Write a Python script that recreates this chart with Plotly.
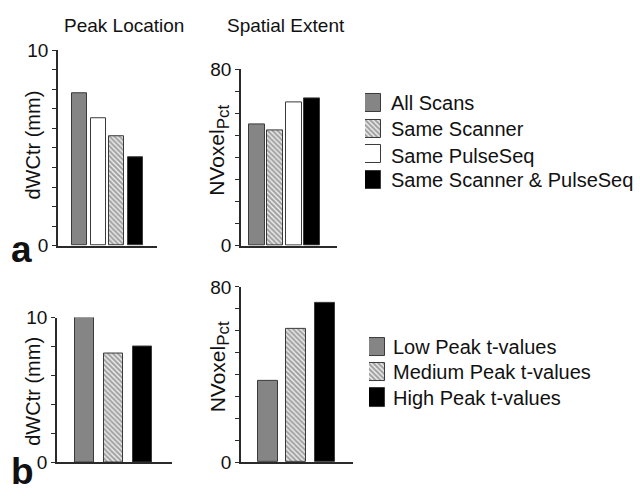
import plotly.graph_objects as go

# ---------------- data ----------------
top_legend = ["All Scans", "Same Scanner", "Same PulseSeq", "Same Scanner & PulseSeq"]
top_peak_order = ["All Scans", "Same PulseSeq", "Same Scanner", "Same Scanner & PulseSeq"]
top_peak_vals = [7.8, 6.5, 5.6, 4.5]
top_spatial_order = ["All Scans", "Same Scanner", "Same PulseSeq", "Same Scanner & PulseSeq"]
top_spatial_vals = [55.2, 52.2, 64.8, 66.7]

bot_legend = ["Low Peak t-values", "Medium Peak t-values", "High Peak t-values"]
bot_peak_vals = [10.0, 7.5, 8.0]
bot_spatial_vals = [37.3, 60.8, 72.8]

peak_ticks_top = [0, 1, 2, 3, 4, 5, 6, 7, 8, 9, 10]
peak_ticks_bot = [0, 2, 4, 6, 8, 10]
spatial_ticks = [0, 10, 20, 30, 40, 50, 60, 70, 80]

# ---------------- styles ----------------
FONT = "Liberation Sans, Arial, Helvetica, sans-serif"
style = {
    "All Scans": ("#858585", ""),
    "Same Scanner": ("white", "\\"),
    "Same PulseSeq": ("white", ""),
    "Same Scanner & PulseSeq": ("black", ""),
    "Low Peak t-values": ("#858585", ""),
    "Medium Peak t-values": ("white", "\\"),
    "High Peak t-values": ("black", ""),
}


def bar_trace(names, vals, xa, ya, width, orientation="v"):
    colors = [style[n][0] for n in names]
    shapes = [style[n][1] for n in names]
    kw = dict(
        marker=dict(
            color=colors,
            line=dict(color="#3a3a3a", width=1),
            pattern=dict(shape=shapes, fillmode="overlay", fgcolor="#111111",
                         size=3.5, solidity=0.65),
        ),
        width=width, xaxis=xa, yaxis=ya, showlegend=False, hoverinfo="skip",
    )
    if orientation == "v":
        return go.Bar(x=list(range(len(names))), y=vals, **kw)
    return go.Bar(y=list(range(len(names))), x=[1] * len(names), orientation="h", **kw)


fig = go.Figure()
fig.add_trace(bar_trace(top_peak_order, top_peak_vals, "x", "y", 0.8))
fig.add_trace(bar_trace(top_spatial_order, top_spatial_vals, "x2", "y2", 0.87))
fig.add_trace(bar_trace(bot_legend, bot_peak_vals, "x3", "y3", 0.68))
fig.add_trace(bar_trace(bot_legend, bot_spatial_vals, "x4", "y4", 0.7))
# legend swatches
fig.add_trace(bar_trace(top_legend, None, "x5", "y5", 0.7, orientation="h"))
fig.add_trace(bar_trace(bot_legend, None, "x6", "y6", 0.72, orientation="h"))

W, H = 640, 500


def px_x(a, b):
    return [a / W, b / W]


def px_y(top, bottom):
    return [1 - bottom / H, 1 - top / H]


AX_LINE = dict(showline=True, linecolor="#2a2a2a", linewidth=1.5, showgrid=False,
               zeroline=False, mirror=False)


def xaxis(dom, rng, anchor):
    return dict(domain=dom, range=rng, anchor=anchor, showticklabels=False,
                ticks="", fixedrange=True, **AX_LINE)


def yaxis(dom, rng, anchor, tickvals):
    text = [str(v) if (v == tickvals[0] or v == tickvals[-1]) else " " for v in tickvals]
    return dict(domain=dom, range=rng, anchor=anchor, tickmode="array",
                tickvals=tickvals, ticktext=text, ticks="outside", ticklen=4,
                tickwidth=1, tickcolor="#2a2a2a",
                tickfont=dict(family=FONT, size=19, color="#111"), **AX_LINE)


hidden = dict(visible=False, showgrid=False, zeroline=False, fixedrange=True)

fig.update_layout(
    width=W, height=H, margin=dict(l=0, r=0, t=0, b=0),
    paper_bgcolor="white", plot_bgcolor="white", bargap=0, showlegend=False,
    xaxis=xaxis(px_x(58, 157), [-1.15, 4.15], "y"),
    yaxis=yaxis(px_y(42, 246), [0, 10], "x", peak_ticks_top),
    xaxis2=xaxis(px_x(241, 337), [-0.87, 4.36], "y2"),
    yaxis2=yaxis(px_y(62, 246), [0, 80], "x2", spatial_ticks),
    xaxis3=xaxis(px_x(57, 172), [-0.95, 3.02], "y3"),
    yaxis3=yaxis(px_y(321, 472), [0, 10], "x3", peak_ticks_bot),
    xaxis4=xaxis(px_x(241, 353), [-0.93, 2.97], "y4"),
    yaxis4=yaxis(px_y(289, 472), [0, 80], "x4", spatial_ticks),
    xaxis5=dict(domain=px_x(365, 381), range=[0, 1], anchor="y5", **hidden),
    yaxis5=dict(domain=px_y(83.5, 191), range=[3.5, -0.5], anchor="x5", **hidden),
    xaxis6=dict(domain=px_x(369, 385), range=[0, 1], anchor="y6", **hidden),
    yaxis6=dict(domain=px_y(338.25, 417.75), range=[2.5, -0.5], anchor="x6", **hidden),
)

ann = []


def text(x, y, s, size=19, xanchor="center", angle=0):
    ann.append(dict(x=x / W, y=1 - y / H, xref="paper", yref="paper", text=s,
                    showarrow=False, xanchor=xanchor, yanchor="middle",
                    textangle=angle,
                    font=dict(family=FONT, size=size, color="#111")))


NVOX = "NVoxel<sub><span style='font-size:17px'>Pct</span></sub>"

text(123.5, 16.5, "Peak Location", size=19)
text(285.5, 16.5, "Spatial Extent", size=19)
text(33, 141.5, "dWCtr (mm)", size=20, angle=-90)
text(219, 147, NVOX, size=21, angle=-90)
text(33, 398.5, "dWCtr (mm)", size=20, angle=-90)
text(219, 373, NVOX, size=21, angle=-90)
text(21, 249.5, "<b>a</b>", size=37)
text(22, 482, "<b>b</b>", size=37)

top_rows = [97, 124.5, 152, 177.5]
for name, y in zip(top_legend, top_rows):
    text(389, y, name, size=20, xanchor="left")
bot_rows = [351.5, 377.5, 404.5]
for name, y in zip(bot_legend, bot_rows):
    text(391, y, name, size=20, xanchor="left")

fig.update_layout(annotations=ann)
fig.write_html("out.html")
